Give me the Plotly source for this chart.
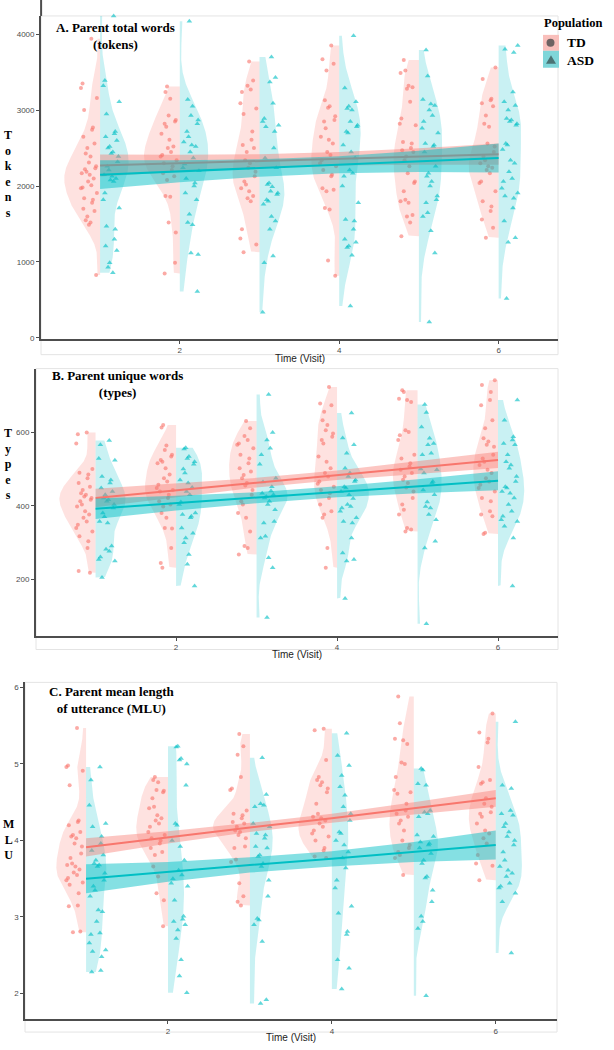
import numpy as np
import plotly.graph_objects as go

# ---------------- DATA ----------------
VISITS = [1, 2, 3, 4, 5, 6]

# Panel A: Parent total words (tokens), one list per visit
tokens_td = [
    [3940, 3350, 3290, 3160, 3000, 2770, 2740, 2650, 2560, 2500, 2430, 2390, 2310, 2260, 2235, 2220, 2190, 2170,
     2150, 2100, 2060, 2010, 1980, 1970, 1910, 1840, 1820, 1780, 1700, 1670, 1600, 1550, 1520, 1490, 830],
    [3310, 3240, 3150, 2930, 2870, 2850, 2820, 2780, 2690, 2610, 2520, 2500, 2450, 2410, 2390, 2340, 2300, 2260,
     2210, 2170, 2130, 2080, 1870, 1860, 1520, 1390, 990, 850],
    [3640, 3390, 3320, 3270, 3240, 3090, 3020, 2950, 2720, 2610, 2540, 2500, 2450, 2340, 2300, 2240, 2190, 2130,
     2060, 2020, 1970, 1930, 1870, 1840, 1800, 1430, 1310, 1230, 1130],
    [3850, 3670, 3610, 3520, 3130, 3050, 3030, 2920, 2870, 2850, 2760, 2650, 2610, 2560, 2450, 2410, 2340, 2300,
     2260, 2210, 2150, 2130, 1970, 1950, 1930, 1710, 1690, 1020, 820],
    [3660, 3520, 3490, 3320, 3300, 3280, 3110, 2890, 2820, 2800, 2580, 2560, 2500, 2470, 2450, 2390, 2340, 2260,
     2170, 2060, 2040, 1930, 1820, 1800, 1780, 1620, 1600, 1520, 1340],
    [3560, 3410, 3150, 3130, 3090, 3050, 2930, 2820, 2780, 2560, 2520, 2450, 2390, 2340, 2300, 2260, 2240, 2210,
     2170, 2060, 2040, 1930, 1800, 1730, 1670, 1560, 1450, 1320],
]
tokens_asd = [
    [4240, 3390, 3320, 3110, 2950, 2720, 2690, 2650, 2600, 2520, 2500, 2450, 2430, 2390, 2320, 2260, 2210, 2150,
     2130, 2100, 2080, 2060, 1910, 1820, 1710, 1470, 1430, 1300, 1210, 1150, 990, 930, 860],
    [4170, 3140, 3050, 2930, 2870, 2820, 2720, 2650, 2580, 2540, 2520, 2450, 2370, 2290, 2240, 2200, 2100, 2040,
     2000, 1910, 1820, 1630, 1520, 1490, 1120, 1100, 610],
    [3700, 3430, 3370, 3090, 2890, 2850, 2800, 2780, 2720, 2500, 2370, 2240, 2040, 2020, 1990, 1930, 1910, 1890,
     1820, 1800, 1760, 1600, 1540, 1430, 1080, 990, 340],
    [3980, 3290, 3110, 3050, 3020, 3000, 2850, 2800, 2780, 2720, 2700, 2540, 2450, 2370, 2210, 2170, 2130, 2000,
     1780, 1560, 1540, 1430, 1300, 1260, 1210, 1190, 1090, 420],
    [3790, 3450, 3140, 3080, 3060, 3000, 2930, 2850, 2760, 2700, 2560, 2540, 2520, 2450, 2260, 2170, 2130, 2060,
     2000, 1870, 1820, 1780, 1650, 1600, 1410, 1120, 210],
    [3850, 3800, 3760, 3240, 3110, 3060, 3000, 2890, 2870, 2850, 2820, 2800, 2560, 2540, 2480, 2340, 2300, 2190,
     2100, 2060, 1970, 1910, 1870, 1840, 1710, 1540, 1320, 1260, 520],
]
tokens_td_fit = [2270, 2300, 2330, 2360, 2390, 2420]
tokens_td_upper = [2415, 2412, 2420, 2448, 2498, 2560]
tokens_td_lower = [2125, 2188, 2240, 2272, 2282, 2280]
tokens_asd_fit = [2150, 2194, 2238, 2282, 2326, 2370]
tokens_asd_upper = [2340, 2339, 2353, 2394, 2466, 2560]
tokens_asd_lower = [1960, 2049, 2123, 2170, 2186, 2180]

# Panel B: Parent unique words (types)
types_td = [
    [600, 595, 570, 500, 490, 485, 475, 462, 452, 443, 434, 430, 425, 421, 416, 412, 403, 398, 385, 376, 367, 357,
     348, 339, 330, 317, 303, 285, 222, 217],
    [620, 613, 564, 552, 539, 534, 525, 520, 516, 502, 485, 475, 466, 457, 448, 443, 439, 430, 421, 412, 403, 398,
     380, 367, 339, 338, 285, 244, 231],
    [631, 611, 590, 579, 570, 566, 557, 539, 529, 516, 502, 493, 484, 475, 462, 455, 443, 430, 412, 403, 380, 367,
     330, 290, 285, 267],
    [724, 679, 674, 656, 633, 620, 606, 597, 588, 579, 570, 534, 520, 502, 489, 480, 466, 460, 452, 443, 434, 421,
     403, 385, 376, 367, 285, 231],
    [715, 710, 692, 688, 683, 606, 601, 592, 579, 539, 529, 516, 507, 498, 489, 480, 471, 462, 450, 439, 421, 403,
     389, 376, 339, 335, 330],
    [742, 729, 710, 688, 674, 633, 611, 584, 575, 566, 561, 539, 529, 520, 511, 498, 489, 475, 466, 457, 448, 439,
     421, 412, 385, 376, 371, 326, 323],
]
types_asd = [
    [578, 566, 529, 524, 480, 470, 462, 448, 439, 430, 421, 416, 412, 403, 394, 380, 370, 357, 353, 290, 281, 276,
     260, 253, 249, 204],
    [558, 555, 534, 529, 520, 513, 500, 489, 470, 462, 450, 439, 430, 410, 403, 380, 376, 371, 367, 339, 325, 312,
     299, 267, 240, 181],
    [703, 600, 579, 557, 539, 513, 475, 465, 452, 440, 434, 430, 425, 421, 412, 403, 389, 357, 353, 317, 312, 258,
     231, 95],
    [653, 585, 566, 543, 502, 489, 480, 470, 466, 452, 448, 439, 430, 420, 403, 398, 394, 385, 367, 357, 353, 312,
     271, 253, 249, 147],
    [676, 654, 615, 584, 570, 566, 543, 539, 500, 498, 489, 466, 462, 443, 430, 410, 398, 394, 376, 362, 303, 285,
     78],
    [688, 633, 588, 579, 570, 566, 539, 520, 511, 502, 480, 466, 452, 448, 439, 434, 421, 403, 385, 371, 362, 357,
     344, 312, 181],
]
types_td_fit = [421, 442, 463, 483, 504, 525]
types_td_upper = [446, 460, 476, 496, 521, 547]
types_td_lower = [396, 424, 450, 470, 487, 503]
types_asd_fit = [392, 407, 422, 438, 453, 468]
types_asd_upper = [420, 427, 437, 453, 472, 494]
types_asd_lower = [364, 387, 407, 423, 434, 442]

# Panel C: Parent mean length of utterance (MLU)
mlu_td = [
    [5.47, 4.98, 4.96, 4.91, 4.72, 4.26, 4.24, 4.20, 4.11, 4.07, 4.05, 4.03, 3.96, 3.92, 3.83, 3.77, 3.70, 3.68,
     3.66, 3.62, 3.58, 3.55, 3.51, 3.48, 3.45, 3.42, 3.31, 3.15, 3.14, 2.81, 2.80],
    [4.83, 4.79, 4.76, 4.66, 4.65, 4.63, 4.55, 4.44, 4.42, 4.33, 4.29, 4.26, 4.22, 4.18, 4.11, 4.07, 4.03, 4.00,
     3.96, 3.90, 3.85, 3.81, 3.66, 3.53, 3.31, 3.22, 2.88],
    [5.39, 5.23, 5.12, 4.83, 4.68, 4.66, 4.39, 4.35, 4.33, 4.29, 4.24, 4.22, 4.18, 4.13, 4.11, 4.07, 4.03, 3.92,
     3.90, 3.75, 3.72, 3.44, 3.27, 3.20, 3.15],
    [5.46, 5.44, 5.05, 4.83, 4.79, 4.76, 4.72, 4.68, 4.63, 4.48, 4.35, 4.31, 4.29, 4.26, 4.22, 4.18, 4.13, 4.09,
     4.05, 4.00, 3.90, 3.87, 3.79, 3.77],
    [5.88, 5.53, 5.33, 5.31, 5.26, 5.02, 5.00, 4.83, 4.66, 4.63, 4.61, 4.48, 4.39, 4.35, 4.31, 4.26, 4.22, 4.13,
     4.00, 3.94, 3.90, 3.85, 3.81, 3.77, 3.55],
    [5.66, 5.41, 5.33, 5.28, 4.96, 4.79, 4.76, 4.74, 4.55, 4.48, 4.44, 4.37, 4.35, 4.31, 4.22, 4.13, 4.09, 4.03,
     3.96, 3.81, 3.70, 3.67, 3.48],
]
mlu_asd = [
    [4.96, 4.79, 4.46, 4.22, 4.18, 4.05, 3.96, 3.87, 3.81, 3.74, 3.70, 3.68, 3.66, 3.57, 3.48, 3.40, 3.35, 3.27,
     3.09, 3.07, 2.94, 2.79, 2.77, 2.66, 2.57, 2.55, 2.48, 2.30, 2.28],
    [5.23, 5.22, 5.07, 5.05, 5.00, 4.72, 4.22, 4.20, 4.00, 3.92, 3.74, 3.61, 3.55, 3.50, 3.44, 3.40, 3.22, 3.01,
     2.97, 2.94, 2.90, 2.83, 2.72, 2.44, 2.23, 2.01],
    [5.08, 4.60, 4.48, 4.46, 4.44, 4.22, 4.18, 4.09, 4.07, 4.03, 3.92, 3.90, 3.81, 3.79, 3.70, 3.66, 3.48, 3.27,
     2.98, 2.96, 2.90, 2.68, 1.92, 1.87],
    [5.40, 5.11, 4.98, 4.85, 4.70, 4.59, 4.44, 4.35, 4.26, 4.11, 4.09, 4.00, 3.94, 3.85, 3.77, 3.64, 3.48, 3.38,
     3.14, 3.05, 2.81, 2.77, 2.44, 2.33, 2.06],
    [4.94, 4.92, 4.74, 4.72, 4.39, 4.37, 4.35, 4.31, 4.07, 4.05, 3.98, 3.96, 3.94, 3.90, 3.83, 3.74, 3.70, 3.53,
     3.51, 3.35, 3.20, 3.01, 2.94, 2.85, 1.97],
    [5.55, 4.72, 4.68, 4.39, 4.35, 4.33, 4.22, 4.18, 4.11, 4.05, 4.00, 3.94, 3.85, 3.74, 3.66, 3.61, 3.57, 3.53,
     3.44, 3.40, 3.38, 3.31, 3.20, 2.53],
]
mlu_td_fit = [3.91, 4.04, 4.17, 4.29, 4.42, 4.55]
mlu_td_upper = [4.03, 4.12, 4.23, 4.35, 4.50, 4.66]
mlu_td_lower = [3.79, 3.96, 4.11, 4.23, 4.34, 4.44]
mlu_asd_fit = [3.50, 3.59, 3.68, 3.76, 3.85, 3.94]
mlu_asd_upper = [3.69, 3.72, 3.78, 3.86, 3.98, 4.13]
mlu_asd_lower = [3.31, 3.46, 3.58, 3.66, 3.72, 3.75]

X_TICKS = [2, 4, 6]
tokens_ticks = [0, 1000, 2000, 3000, 4000]
types_ticks = [200, 400, 600]
mlu_ticks = [2, 3, 4, 5, 6]

# ---------------- STYLE / LAYOUT ----------------
W, H = 614, 1050
TD_RGB = (248, 118, 109)
ASD_RGB = (0, 191, 196)
SERIF = "Liberation Serif, Times New Roman, serif"
SANS = "Liberation Sans, Arial, sans-serif"
AXIS_COL = "#4d4d4d"

JITTER = [0.00, 0.07, -0.06, 0.03, -0.09, 0.09, -0.02, 0.05, -0.08, 0.01, 0.08,
          -0.04, 0.04, -0.10, 0.06, -0.05, 0.02, -0.07, 0.10, -0.01, -0.03]
DODGE = 0.14
HALF_WIDTH = 0.45


def rgba(rgb, a):
    return f"rgba({rgb[0]},{rgb[1]},{rgb[2]},{a})"


def px_x(p):
    return p / W


def px_y(p):
    return 1 - p / H


def kde(vals):
    v = np.asarray(vals, dtype=float)
    n = len(v)
    sd = v.std(ddof=1)
    q75, q25 = np.percentile(v, [75, 25])
    bw = 0.9 * min(sd, (q75 - q25) / 1.34) * n ** -0.2
    grid = np.linspace(v.min(), v.max(), 256)
    dens = np.exp(-0.5 * ((grid[:, None] - v[None, :]) / bw) ** 2).sum(1) / (n * bw * np.sqrt(2 * np.pi))
    return grid, dens


panels = [
    dict(td=tokens_td, asd=tokens_asd,
         td_fit=tokens_td_fit, td_up=tokens_td_upper, td_lo=tokens_td_lower,
         asd_fit=tokens_asd_fit, asd_up=tokens_asd_upper, asd_lo=tokens_asd_lower,
         yticks=tokens_ticks, yrange=[-10, 4240],
         xdom=(41.1, 558), ydom=(16, 340), box=(41, 16, 558, 356), xtitle_y=360,
         title="<b>A. Parent total words</b><br><b>(tokens)</b>", title_xy=(115, 36),
         ytitle="T<br>o<br>k<br>e<br>n<br>s", ytitle_y=175),
    dict(td=types_td, asd=types_asd,
         td_fit=types_td_fit, td_up=types_td_upper, td_lo=types_td_lower,
         asd_fit=types_asd_fit, asd_up=types_asd_upper, asd_lo=types_asd_lower,
         yticks=types_ticks, yrange=[45, 774],
         xdom=(36, 558), ydom=(370, 638.3), box=(36, 370, 558, 652), xtitle_y=657,
         title="<b>B. Parent unique words</b><br><b>(types)</b>", title_xy=(117, 385),
         ytitle="T<br>y<br>p<br>e<br>s", ytitle_y=466),
    dict(td=mlu_td, asd=mlu_asd,
         td_fit=mlu_td_fit, td_up=mlu_td_upper, td_lo=mlu_td_lower,
         asd_fit=mlu_asd_fit, asd_up=mlu_asd_upper, asd_lo=mlu_asd_lower,
         yticks=mlu_ticks, yrange=[1.662, 6.065],
         xdom=(25.4, 556.8), ydom=(685, 1023.3), box=(25, 685, 557, 1036), xtitle_y=1041,
         title="<b>C. Parent mean length</b><br><b>of utterance (MLU)</b>", title_xy=(111, 703),
         ytitle="M<br>L<br>U", ytitle_y=843),
]

fig = go.Figure()
shapes = []
annotations = []
layout_axes = {}

for i, p in enumerate(panels):
    k = "" if i == 0 else str(i + 1)
    xa, ya = "x" + k, "y" + k

    # violins (density computed from the data, area-scaled per panel like ggplot)
    dens_td = [kde(v) for v in p["td"]]
    dens_asd = [kde(v) for v in p["asd"]]
    dmax = max(d.max() for _, d in dens_td + dens_asd)
    for group, dens_list, sign, rgb in (("TD", dens_td, -1, TD_RGB), ("ASD", dens_asd, 1, ASD_RGB)):
        for visit, (grid, d) in zip(VISITS, dens_list):
            xs = [visit] + list(visit + sign * HALF_WIDTH * d / dmax) + [visit]
            ys = [grid[0]] + list(grid) + [grid[-1]]
            fig.add_trace(go.Scatter(x=xs, y=ys, mode="lines", fill="toself",
                                     fillcolor=rgba(rgb, 0.21), line=dict(width=0),
                                     hoverinfo="skip", showlegend=False, xaxis=xa, yaxis=ya))

    # jittered points
    for group, data, sign, rgb, sym, size in (("TD", p["td"], -1, TD_RGB, "circle", 4),
                                              ("ASD", p["asd"], 1, ASD_RGB, "triangle-up", 5)):
        xs, ys = [], []
        for visit, vals in zip(VISITS, data):
            for j, val in enumerate(vals):
                xs.append(visit + sign * DODGE + JITTER[(j * 5 + visit * 3) % len(JITTER)])
                ys.append(val)
        fig.add_trace(go.Scatter(x=xs, y=ys, mode="markers", name=group,
                                 marker=dict(symbol=sym, size=size, color=rgba(rgb, 0.62), line=dict(width=0)),
                                 cliponaxis=False, showlegend=False, xaxis=xa, yaxis=ya))

    # regression fits with confidence bands
    for rgb, fit, up, lo, band_a in ((TD_RGB, p["td_fit"], p["td_up"], p["td_lo"], 0.42),
                                     (ASD_RGB, p["asd_fit"], p["asd_up"], p["asd_lo"], 0.48)):
        fig.add_trace(go.Scatter(x=VISITS + VISITS[::-1], y=up + lo[::-1], mode="lines", fill="toself",
                                 fillcolor=rgba(rgb, band_a), line=dict(width=0),
                                 hoverinfo="skip", showlegend=False, xaxis=xa, yaxis=ya))
        fig.add_trace(go.Scatter(x=VISITS, y=fit, mode="lines", line=dict(color=rgba(rgb, 1), width=2),
                                 showlegend=False, xaxis=xa, yaxis=ya))

    common = dict(showline=True, linecolor=AXIS_COL, linewidth=2, ticks="outside", ticklen=3,
                  tickwidth=1, tickcolor=AXIS_COL, showgrid=False, zeroline=False,
                  tickfont=dict(family=SANS, size=8, color=AXIS_COL))
    layout_axes["xaxis" + k] = dict(common, domain=[px_x(p["xdom"][0]), px_x(p["xdom"][1])],
                                    range=[0.26, 6.745], tickvals=X_TICKS, anchor=ya)
    layout_axes["yaxis" + k] = dict(common, domain=[px_y(p["ydom"][1]), px_y(p["ydom"][0])],
                                    range=p["yrange"], tickvals=p["yticks"], anchor=xa)

    bx0, by0, bx1, by1 = p["box"]
    shapes.append(dict(type="rect", xref="paper", yref="paper", x0=px_x(bx0), x1=px_x(bx1),
                       y0=px_y(by1), y1=px_y(by0), line=dict(color="#e4e4e4", width=1), layer="below"))

    annotations.append(dict(text="Time (Visit)", xref="paper", yref="paper",
                            x=px_x((p["xdom"][0] + p["xdom"][1]) / 2), y=px_y(p["xtitle_y"]),
                            xanchor="center", yanchor="middle", showarrow=False,
                            font=dict(family=SANS, size=10, color="#222222")))
    annotations.append(dict(text=p["title"], xref="paper", yref="paper",
                            x=px_x(p["title_xy"][0]), y=px_y(p["title_xy"][1]),
                            xanchor="center", yanchor="middle", showarrow=False, align="center",
                            font=dict(family=SERIF, size=13, color="#000000")))
    annotations.append(dict(text="<b>" + p["ytitle"] + "</b>", xref="paper", yref="paper",
                            x=px_x(8), y=px_y(p["ytitle_y"]), xanchor="center", yanchor="middle",
                            showarrow=False, align="center",
                            font=dict(family=SERIF, size=12, color="#000000")))

# y axis line of panel A runs up to the top edge
shapes.append(dict(type="line", xref="paper", yref="paper", x0=px_x(41.1), x1=px_x(41.1),
                   y0=px_y(16), y1=px_y(0), line=dict(color=AXIS_COL, width=2)))

# legend (Population)
annotations.append(dict(text="<b>Population</b>", xref="paper", yref="paper", x=px_x(542), y=px_y(23),
                        xanchor="left", yanchor="middle", showarrow=False,
                        font=dict(family=SERIF, size=12.5, color="#000000")))
shapes.append(dict(type="rect", xref="paper", yref="paper", x0=px_x(543), x1=px_x(559),
                   y0=px_y(51), y1=px_y(35), fillcolor="#f9bfbb", line=dict(width=0)))
shapes.append(dict(type="rect", xref="paper", yref="paper", x0=px_x(543), x1=px_x(559),
                   y0=px_y(68), y1=px_y(51), fillcolor="#7fd6d9", line=dict(width=0)))
shapes.append(dict(type="circle", xref="paper", yref="paper", x0=px_x(546.5), x1=px_x(554.5),
                   y0=px_y(47), y1=px_y(39), fillcolor="#6e6262", line=dict(width=0)))
shapes.append(dict(type="path", xref="paper", yref="paper",
                   path=f"M {px_x(546)} {px_y(64)} L {px_x(551)} {px_y(55.5)} L {px_x(556)} {px_y(64)} Z",
                   fillcolor="#4a7374", line=dict(width=0)))
annotations.append(dict(text="<b>TD</b>", xref="paper", yref="paper", x=px_x(565), y=px_y(43),
                        xanchor="left", yanchor="middle", showarrow=False,
                        font=dict(family=SERIF, size=13.5, color="#000000")))
annotations.append(dict(text="<b>ASD</b>", xref="paper", yref="paper", x=px_x(565), y=px_y(61),
                        xanchor="left", yanchor="middle", showarrow=False,
                        font=dict(family=SERIF, size=13.5, color="#000000")))

fig.update_layout(width=W, height=H, margin=dict(l=0, r=0, t=0, b=0),
                  paper_bgcolor="white", plot_bgcolor="white", showlegend=False,
                  shapes=shapes, annotations=annotations, **layout_axes)

fig.write_html("out.html", config={"displayModeBar": False},
               post_script="document.body.style.margin='0';document.body.style.overflow='hidden';")
